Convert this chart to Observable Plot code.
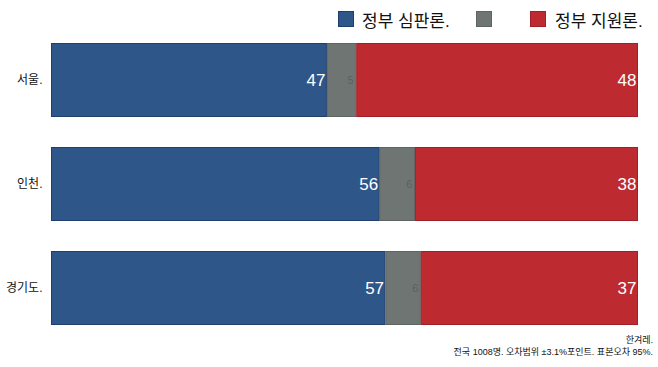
<!DOCTYPE html>
<html>
<head>
<meta charset="utf-8">
<script src="https://cdn.jsdelivr.net/npm/d3@7"></script>
<script src="https://cdn.jsdelivr.net/npm/@observablehq/plot@0.6"></script>
<style>
  body { margin: 0; background: #fff; font-family: "Liberation Sans", "Noto Sans CJK KR", sans-serif; }
  #wrap { position: relative; width: 658px; height: 367px; overflow: hidden; }
  #legend { position: absolute; top: 9px; left: 0; width: 658px; height: 22px; font-size: 17px; color: #111; }
  .sw { position: absolute; top: 2px; width: 16px; height: 16px; box-sizing: border-box; }
  .lt { position: absolute; top: -2px; white-space: nowrap; }
  #caption { position: absolute; right: 5px; top: 334px; text-align: right; font-size: 9px; line-height: 12px; color: #111; }
</style>
</head>
<body>
<div id="wrap">
  <div id="chart"></div>
  <div id="legend"></div>
  <div id="caption"></div>
</div>
<script>
const regions = ["서울.", "인천.", "경기도."];
const judgment = [47, 56, 57];
const neutral = [5, 6, 6];
const support = [48, 38, 37];
const seriesNames = ["정부 심판론.", "", "정부 지원론."];
const seriesColors = ["#2F5689", "#6F7572", "#BD2A30"];
const seriesStrokes = ["#1E3E6C", "#5E6462", "#A11F26"];
const captionLines = ["한겨레.", "전국 1008명. 오차범위 ±3.1%포인트. 표본오차 95%."];

const rows = [];
regions.forEach((r, i) => {
  let x = 0;
  [judgment[i], neutral[i], support[i]].forEach((v, k) => {
    rows.push({region: r, series: k, value: v, x1: x, x2: x + v});
    x += v;
  });
});

const plot = Plot.plot({
  width: 658,
  height: 367,
  marginLeft: 51,
  marginRight: 20,
  marginTop: 43,
  marginBottom: 42,
  style: {fontFamily: "\"Liberation Sans\", \"Noto Sans CJK KR\", sans-serif", background: "transparent"},
  x: {domain: [0, 100], axis: null},
  y: {domain: regions, paddingInner: 30/104, paddingOuter: 0, label: null, tickSize: 0},
  marks: [
    Plot.barX(rows, {
      y: "region", x1: "x1", x2: "x2",
      fill: d => seriesColors[d.series],
      stroke: d => seriesStrokes[d.series],
      strokeWidth: 1, inset: 0.5
    }),
    Plot.text(rows.filter(d => d.series !== 1), {
      y: "region", x: "x2", text: d => String(d.value),
      textAnchor: "end", dx: -2, fill: "white", fontSize: 17
    }),
    Plot.text(rows.filter(d => d.series === 1), {
      y: "region", x: "x2", text: d => String(d.value),
      textAnchor: "end", dx: -3, fill: "#5C615F", fontSize: 11
    }),
    Plot.axisY({tickSize: 0, tickPadding: 9, fontSize: 12, fill: "#111"})
  ]
});
document.getElementById("chart").appendChild(plot);

const legend = document.getElementById("legend");
const swX = [338, 476, 530];
const txX = [362, null, 555];
seriesNames.forEach((n, k) => {
  const s = document.createElement("div");
  s.className = "sw";
  s.style.left = swX[k] + "px";
  s.style.background = seriesColors[k];
  s.style.border = "1px solid " + seriesStrokes[k];
  legend.appendChild(s);
  if (n) {
    const t = document.createElement("div");
    t.className = "lt";
    t.style.left = txX[k] + "px";
    t.textContent = n;
    legend.appendChild(t);
  }
});

document.getElementById("caption").innerHTML = captionLines.map(l => `<div>${l}</div>`).join("");
</script>
</body>
</html>
